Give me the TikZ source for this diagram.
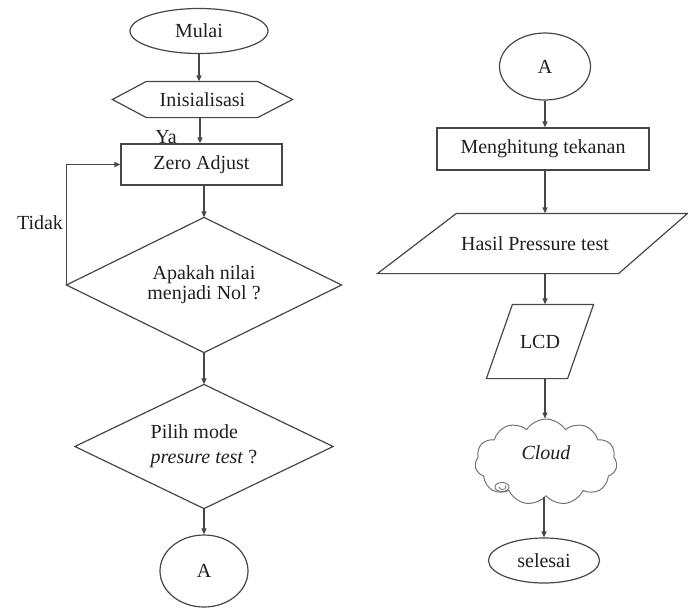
\documentclass[tikz,border=0pt]{standalone}
\usepackage{fontspec}
\setmainfont{Liberation Serif}
\usetikzlibrary{shapes.geometric,shapes.symbols,arrows.meta,calc}
\begin{document}
\begin{tikzpicture}[x=1pt,y=-1pt,
  line width=1.2pt,
  color=black!72,
  every node/.style={font=\rmfamily\fontsize{20}{20}\selectfont, text=black!88, inner sep=0pt},
  frame/.style={rectangle, inner sep=0pt},
  oval/.style={ellipse, draw, inner sep=0pt},
  arr/.style={-{Triangle[length=6pt,width=5pt]}}
]
\useasboundingbox (0,0) rectangle (688,608);

% ---------- left column ----------
\node[oval, minimum width=138pt, minimum height=45pt] (mulai) at (199,31) {Mulai};

\node[frame, minimum width=179pt, minimum height=35pt] (init) at (202.5,99.5) {Inisialisasi};
\draw (init.west) -- ([xshift=34pt]init.north west) -- ([xshift=-35pt]init.north east)
      -- (init.east) -- ([xshift=-35pt]init.south east) -- ([xshift=34pt]init.south west) -- cycle;

\node[frame, draw, minimum width=161pt, minimum height=41pt] (zero) at (201.5,164.5) {Zero Adjust};

\node[frame, minimum width=274pt, minimum height=134pt, align=center] (cek) at (204,285) {Apakah nilai\\menjadi Nol ?};
\draw (cek.north) -- (cek.east) -- (cek.south) -- (cek.west) -- cycle;

\node[frame, minimum width=257pt, minimum height=123pt, align=left,
      font=\rmfamily\fontsize{20}{25}\selectfont] (pilih) at (204,446.5) {Pilih mode\\\textit{presure test} ?};
\draw (pilih.north) -- (pilih.east) -- (pilih.south) -- (pilih.west) -- cycle;

\node[oval, minimum width=88pt, minimum height=72pt] (a1) at (204,571) {A};

\node (ya) at (166,137) {Ya};
\node (tidak) at (40,223) {Tidak};

\draw[arr] (mulai.south) -- (mulai.south |- init.north);
\draw[arr] (init.south -| 200,0) -- (zero.north -| 200,0);
\draw[arr] (zero.south -| cek.north) -- (cek.north);
\draw[arr] (cek.south) -- (pilih.north);
\draw[arr] (pilih.south) -- (a1.north);
\draw[arr] (cek.west) -- (cek.west |- zero.west) -- (zero.west);

% ---------- right column ----------
\node[oval, minimum width=91pt, minimum height=67pt] (a2) at (545,66.5) {A};

\node[frame, draw, minimum width=212pt, minimum height=42pt] (hitung) at (543,149) {Menghitung tekanan};

\node[frame, minimum width=240pt, minimum height=59pt] (hasil) at (535,243.5) {Hasil Pressure test};
\draw ([xshift=42pt]hasil.north west) -- ([xshift=32pt]hasil.north east)
      -- ([xshift=-37pt]hasil.south east) -- ([xshift=-37pt]hasil.south west) -- cycle;

\node[frame, minimum width=80pt, minimum height=73pt] (lcd) at (540,341.5) {LCD};
\draw ([xshift=13pt]lcd.north west) -- ([xshift=13pt]lcd.north east)
      -- ([xshift=-13pt]lcd.south east) -- ([xshift=-13pt]lcd.south west) -- cycle;

\node[cloud, draw=black!55, line width=1pt, cloud puffs=11, cloud puff arc=115, aspect=1.65,
      minimum width=142pt, minimum height=86pt] (cloud) at (546,462)
      {\raisebox{3pt}[0pt][0pt]{\textit{Cloud}}};
\draw[draw=black!55, line width=0.9pt] (502,487) ellipse [x radius=7pt, y radius=4.5pt];
\draw[draw=black!55, line width=0.8pt] (499,487) arc[start angle=180, end angle=400, x radius=3.5pt, y radius=2.5pt];

\node[oval, minimum width=111pt, minimum height=45pt] (selesai) at (544,560.5) {selesai};

\draw[arr] (a2.south) -- (a2.south |- hitung.north);
\draw[arr] (hitung.south -| a2.south) -- (hasil.north -| a2.south);
\draw[arr] (hasil.south -| a2.south) -- (lcd.north -| a2.south);
\draw[arr] (lcd.south -| a2.south) -- (cloud.north -| a2.south);
\draw[arr] (cloud.south -| selesai.north) -- (selesai.north);
\end{tikzpicture}
\end{document}
